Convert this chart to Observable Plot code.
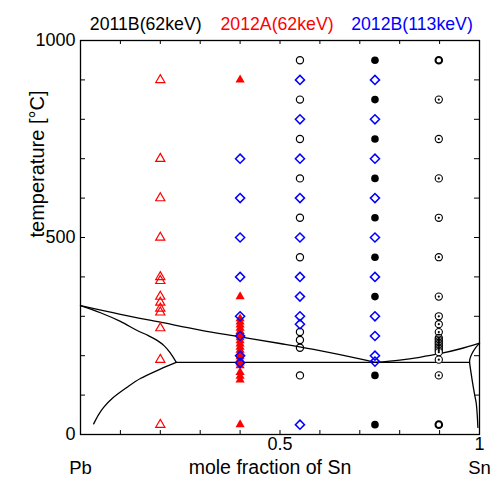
<!DOCTYPE html>
<html><head><meta charset="utf-8">
<script src="https://cdn.jsdelivr.net/npm/d3@7"></script>
<script src="https://cdn.jsdelivr.net/npm/@observablehq/plot@0.6"></script>
<style>
body{margin:0;background:#fff}
#chart svg{font-family:"Liberation Sans",Arial,sans-serif}
</style>
</head><body><div id="chart"></div>
<script>
// ---- series titles ----
const seriesTitles = ["2011B(62keV)", "2012A(62keV)", "2012B(113keV)"];
const seriesColors = ["#000000", "#ff0000", "#0000ff"];

// ---- measurement temperatures (°C) per composition (mole fraction of Sn) ----
const xOpenTriangle = 0.2;   // 2012A
const openTriangleT = [900, 700, 600, 500, 400, 390, 350, 335, 320, 310, 270, 190, 25];
const xFilledTriangle = 0.4; // 2012A
const filledTriangleT = [900, 350, 294, 286, 278, 270, 262, 254, 246, 238, 230, 222, 214, 206, 198, 190, 182, 175, 158, 148, 139, 25];
const xDiamondA = 0.4;       // 2012B
const diamondAT = [700, 600, 500, 400, 300, 250, 200, 182];
const xOpenCircle = 0.55;    // 2011B
const openCircleT = [950, 850, 750, 650, 550, 450, 260, 240, 220, 150];
const xDiamondB = 0.55;      // 2012B
const diamondBT = [900, 800, 700, 600, 500, 400, 350, 300, 280, 25];
const xFilledCircle = 0.738; // 2011B
const filledCircleT = [950, 850, 750, 650, 550, 450, 350, 150, 25];
const xDiamondC = 0.738;     // 2012B
const diamondCT = [900, 800, 700, 600, 500, 400, 300, 250, 200, 185];
const xDottedCircle = 0.898; // 2011B
const dottedCircleT = [850, 750, 650, 550, 450, 350, 300, 280, 260, 245, 241, 237, 233, 229, 225, 221, 217, 213, 209, 190, 150];
const boldCircleT = [950, 25];

// ---- Pb-Sn phase diagram boundaries ----
const liquidusLX = [0, 0.1, 0.2, 0.3, 0.4, 0.5, 0.6, 0.7, 0.738];
const liquidusLT = [327, 305, 285, 265, 248, 231, 213, 192, 183];
const liquidusRX = [0.738, 0.8, 0.85, 0.9, 0.95, 1];
const liquidusRT = [183, 189, 196, 205, 217, 232];
const solidusLX = [0, 0.05, 0.1, 0.142, 0.17, 0.192, 0.21, 0.225, 0.24];
const solidusLT = [327, 309, 287, 264, 251, 239, 225, 207, 183];
const solvusLX = [0.24, 0.2, 0.15, 0.117, 0.08, 0.058, 0.045, 0.033];
const solvusLT = [183, 166, 142, 120, 92, 69, 50, 27];
const eutecticX = [0.24, 0.975];
const eutecticT = [183, 183];
const solidusRX = [1, 0.99, 0.981, 0.976, 0.975];
const solidusRT = [232, 220, 205, 192, 183];
const solvusRX = [0.975, 0.979, 0.983, 0.988, 0.992, 0.996];
const solvusRT = [183, 155, 129, 100, 78, 18];

// ---- axis ticks / labels ----
const xMinorTicks = [0.1, 0.2, 0.3, 0.4, 0.5, 0.6, 0.7, 0.8, 0.9];
const yMinorTicks = [100, 200, 300, 400, 500, 600, 700, 800, 900];
const xTickLabels = [0.5, 1];
const yTickLabels = [0, 500, 1000];
const endLabels = ["Pb", "Sn"];
const endLabelX = [0, 1];
const xLabel = "mole fraction of Sn";
const yLabel = "temperature [°C]";

// ---- build tables ----
const pts = (x, ts) => ts.map(T => ({x, T}));
const line = (xs, ts) => xs.map((x, i) => ({x, T: ts[i]}));

const W = 495, H = 487, mL = 80, mR = 16, mT = 40, mB = 53;
const pw = W - mL - mR, ph = H - mT - mB;
const red = seriesColors[1], blue = seriesColors[2], black = seriesColors[0];

const curveLine = (xs, ts, curve) => Plot.line(line(xs, ts), {x: "x", y: "T", stroke: black, strokeWidth: 1.3, curve});

const chart = Plot.plot({
  width: W, height: H,
  marginLeft: mL, marginRight: mR, marginTop: mT, marginBottom: mB,
  x: {domain: [0, 1]},
  y: {domain: [0, 1000]},
  style: {fontFamily: "Liberation Sans, Arial, sans-serif", fontSize: "18px", background: "white", color: "black"},
  marks: [
    curveLine(liquidusLX, liquidusLT, "catmull-rom"),
    curveLine(liquidusRX, liquidusRT, "catmull-rom"),
    curveLine(solidusLX, solidusLT, "catmull-rom"),
    curveLine(solvusLX, solvusLT, "catmull-rom"),
    curveLine(eutecticX, eutecticT, "linear"),
    curveLine(solidusRX, solidusRT, "catmull-rom"),
    curveLine(solvusRX, solvusRT, "catmull-rom"),
    // 2012A
    Plot.dot(pts(xOpenTriangle, openTriangleT), {x: "x", y: "T", symbol: "triangle", r: 3.4, stroke: red, strokeWidth: 1.2, fill: "none"}),
    Plot.dot(pts(xFilledTriangle, filledTriangleT), {x: "x", y: "T", symbol: "triangle", r: 3.4, fill: red, stroke: "none"}),
    // 2011B
    Plot.dot(pts(xOpenCircle, openCircleT), {x: "x", y: "T", r: 3.6, stroke: black, strokeWidth: 1.2, fill: "none"}),
    Plot.dot(pts(xFilledCircle, filledCircleT), {x: "x", y: "T", r: 3.8, fill: black, stroke: "none"}),
    Plot.dot(pts(xDottedCircle, dottedCircleT), {x: "x", y: "T", r: 3.6, stroke: black, strokeWidth: 1.1, fill: "white"}),
    Plot.dot(pts(xDottedCircle, dottedCircleT), {x: "x", y: "T", r: 1.1, fill: black, stroke: "none"}),
    Plot.dot(pts(xDottedCircle, boldCircleT), {x: "x", y: "T", r: 3.3, stroke: black, strokeWidth: 2, fill: "none"}),
    // 2012B
    Plot.dot(pts(xDiamondA, diamondAT), {x: "x", y: "T", symbol: "diamond2", r: 4.1, stroke: blue, strokeWidth: 1.5, fill: "none"}),
    Plot.dot(pts(xDiamondB, diamondBT), {x: "x", y: "T", symbol: "diamond2", r: 4.1, stroke: blue, strokeWidth: 1.5, fill: "none"}),
    Plot.dot(pts(xDiamondC, diamondCT), {x: "x", y: "T", symbol: "diamond2", r: 4.1, stroke: blue, strokeWidth: 1.5, fill: "none"}),
    // frame and inward ticks
    Plot.frame({stroke: black, strokeWidth: 1.3}),
    Plot.tickX(xMinorTicks, {x: d => d, insetTop: ph - 4, stroke: black}),
    Plot.tickX(xMinorTicks, {x: d => d, insetBottom: ph - 4, stroke: black}),
    Plot.tickY(yMinorTicks, {y: d => d, insetRight: pw - 5, stroke: black}),
    Plot.tickY(yMinorTicks, {y: d => d, insetLeft: pw - 5, stroke: black}),
    // axis labels
    Plot.axisX({ticks: xTickLabels, tickSize: 0, tickPadding: 3, fontSize: 18, tickFormat: d => String(d), label: null}),
    Plot.axisY({ticks: yTickLabels, tickSize: 0, tickPadding: 5, fontSize: 18, tickFormat: d => String(d), label: null}),
    Plot.text([xLabel], {frameAnchor: "bottom", dx: -10, dy: 39, fontSize: 19.5}),
    Plot.text(endLabels, {x: endLabelX, frameAnchor: "bottom", dy: 39, fontSize: 18.5}),
    Plot.text([yLabel], {frameAnchor: "left", rotate: -90, dx: -43, fontSize: 20}),
    // series titles
    Plot.text([seriesTitles[0]], {frameAnchor: "top-left", textAnchor: "start", lineAnchor: "bottom", dx: 9.3, dy: -11, fontSize: 17.7, fill: seriesColors[0]}),
    Plot.text([seriesTitles[1]], {frameAnchor: "top-left", textAnchor: "start", lineAnchor: "bottom", dx: 140, dy: -11, fontSize: 17.7, fill: seriesColors[1]}),
    Plot.text([seriesTitles[2]], {frameAnchor: "top-left", textAnchor: "start", lineAnchor: "bottom", dx: 270.7, dy: -11, fontSize: 17.7, fill: seriesColors[2]})
  ]
});
document.getElementById("chart").appendChild(chart);
</script></body></html>
